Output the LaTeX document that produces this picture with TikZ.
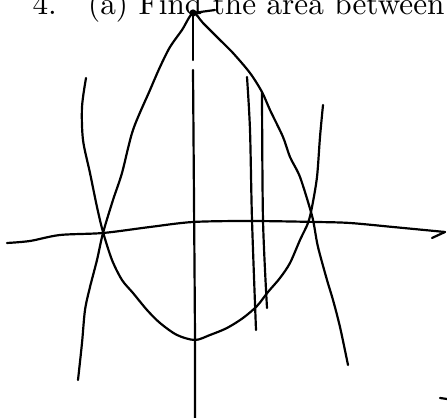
\documentclass[tikz,border=0pt]{standalone}
\begin{document}
\begin{tikzpicture}[x=0.32pt, y=-0.32pt,
  pen/.style={line width=0.7pt, line cap=round, line join=round},
  curve/.style={pen, smooth, tension=0.5}]
\useasboundingbox (0,0) rectangle (447,418);
\clip (0,0) rectangle (447,418);
\node (title) [anchor=base west, inner sep=0pt] at (32,15) {4.\quad(a) Find the area between};
\draw[pen] plot[smooth, tension=0.5] coordinates {(7,243) (30,241) (60,235) (103,233) (150,227) (193,222) (250,221) (317,222) (350,223) (393,227) (445,232)};
\coordinate (xend) at (445,232);
\draw[pen] (xend) -- (432,238);
\draw[pen] (193,13) -- (193,60);
\draw[pen] plot[smooth, tension=0.5] coordinates {(193,70) (194,200) (195,340) (195,418)};
\draw[pen] plot[smooth, tension=0.5] coordinates {(78,380) (82,343) (85,310) (90,287) (97,260) (103,233) (113,200) (122,173) (133,130) (150,90) (160,67) (170,47) (182,30) (193,13) (203,23) (220,40) (233,53) (250,73) (262,92) (270,110) (283,137) (290,157) (300,177) (311,212) (314,225) (318,247) (327,280) (333,300) (340,327) (348,365)};
\draw[pen] plot[smooth, tension=0.5] coordinates {(86,78) (82,107) (83,140) (90,173) (97,207) (103,232) (112,260) (122,280) (133,293) (147,310) (160,323) (177,335) (195,340) (210,335) (227,328) (243,318) (257,306) (268,292) (280,278) (290,263) (300,240) (308,223) (312,207) (317,177) (320,137) (323,105)};
\draw[pen] plot[smooth, tension=0.5] coordinates {(247,77) (250,130) (252,220) (256,330)};
\draw[pen] plot[smooth, tension=0.5] coordinates {(262,92) (263,220) (267,308)};
\coordinate (apex) at (193,13);
\draw[pen] (apex) circle (2.5);
\draw[pen] (apex) -- (215,10);
\draw[pen] (440,398) -- (447,399);
\end{tikzpicture}
\end{document}
